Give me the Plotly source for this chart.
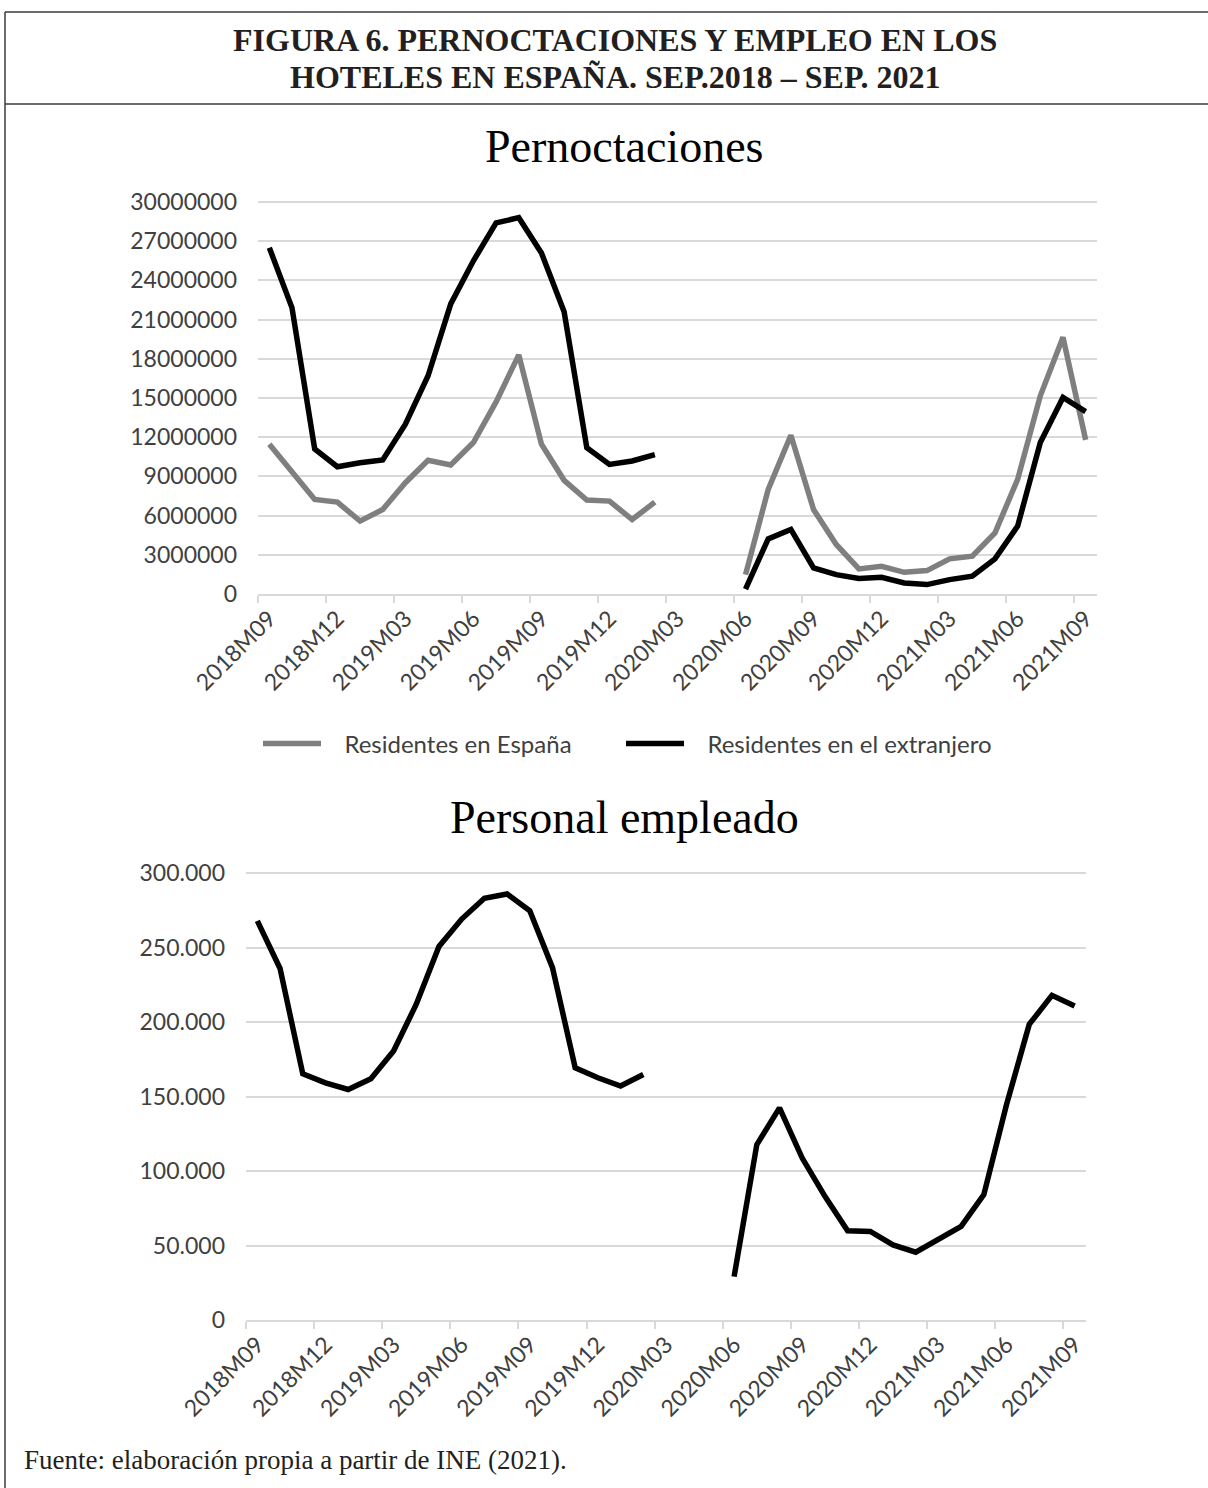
import plotly.graph_objects as go

W, H = 1208, 1488

# Monthly categories, Sep 2018 - Sep 2021
meses = [
    "2018M09", "2018M10", "2018M11", "2018M12",
    "2019M01", "2019M02", "2019M03", "2019M04", "2019M05", "2019M06",
    "2019M07", "2019M08", "2019M09", "2019M10", "2019M11", "2019M12",
    "2020M01", "2020M02", "2020M03", "2020M04", "2020M05", "2020M06",
    "2020M07", "2020M08", "2020M09", "2020M10", "2020M11", "2020M12",
    "2021M01", "2021M02", "2021M03", "2021M04", "2021M05", "2021M06",
    "2021M07", "2021M08", "2021M09",
]

# Overnight stays (hotel closures leave Mar-May 2020 empty)
residentes_espana = [
    11460000, 9280000, 7240000, 7030000, 5580000, 6470000, 8520000, 10230000,
    9870000, 11590000, 14700000, 18300000, 11460000, 8700000, 7190000, 7110000,
    5700000, 7030000, None, None, None, 1480000, 8000000, 12150000, 6470000,
    3790000, 1920000, 2120000, 1660000, 1790000, 2690000, 2890000, 4680000,
    8770000, 15170000, 19640000, 11790000,
]
residentes_extranjero = [
    26500000, 21900000, 11100000, 9740000, 10050000, 10260000, 13000000,
    16700000, 22200000, 25500000, 28400000, 28800000, 26100000, 21600000,
    11200000, 9920000, 10180000, 10670000, None, None, None, 380000, 4220000,
    4940000, 2000000, 1480000, 1180000, 1280000, 840000, 720000, 1100000,
    1360000, 2690000, 5190000, 11590000, 15040000, 13960000,
]

# Hotel staff
personal_empleado = [
    267900, 235900, 165200, 159200, 154700, 161900, 180500, 211900, 250700,
    269100, 283000, 285900, 274700, 236500, 169300, 162600, 157000, 164800,
    None, None, None, 29100, 117700, 142400, 108700, 83000, 59900, 59400,
    50400, 45500, 54300, 62800, 84100, 144600, 198400, 217900, 210800,
]

ticks_pernoct = [0, 3000000, 6000000, 9000000, 12000000, 15000000, 18000000,
                 21000000, 24000000, 27000000, 30000000]
labels_pernoct = [str(v) for v in ticks_pernoct]
ticks_empleo = [0, 50000, 100000, 150000, 200000, 250000, 300000]
labels_empleo = ["0", "50.000", "100.000", "150.000", "200.000", "250.000", "300.000"]

GRAY = "#7f7f7f"
GRID = "#d9d9d9"
TXT = "#404040"
LW = 5.5


def px(x):
    return x / W


def py(y):
    return 1 - y / H


fig = go.Figure()
fig.add_trace(go.Scatter(x=meses, y=residentes_espana, mode="lines",
                         name="&nbsp;&nbsp;&nbsp;Residentes en España",
                         line=dict(color=GRAY, width=LW),
                         xaxis="x", yaxis="y", legend="legend"))
fig.add_trace(go.Scatter(x=meses, y=residentes_extranjero, mode="lines",
                         name="&nbsp;&nbsp;&nbsp;Residentes en el extranjero",
                         line=dict(color="black", width=LW),
                         xaxis="x", yaxis="y", legend="legend2"))
fig.add_trace(go.Scatter(x=meses, y=personal_empleado, mode="lines",
                         name="Personal empleado", showlegend=False,
                         line=dict(color="black", width=LW),
                         xaxis="x2", yaxis="y2"))

tick_font = dict(family="Lato", size=23, color=TXT)

xaxis_common = dict(
    type="category", categoryorder="array", categoryarray=meses,
    range=[-0.5, len(meses) - 0.5],
    tickmode="linear", tick0=0, dtick=3, tickson="boundaries",
    ticks="outside", ticklen=7, tickwidth=2, tickcolor=GRID,
    showline=True, linecolor=GRID, linewidth=2,
    showgrid=False, zeroline=False, tickangle=-45,
    tickfont=tick_font, fixedrange=True, automargin=False,
)
yaxis_common = dict(
    showgrid=True, gridcolor=GRID, gridwidth=2, zeroline=False,
    showline=False, ticks="", tickfont=tick_font, ticklabelstandoff=20,
    fixedrange=True, automargin=False,
)

legend_common = dict(
    orientation="h", xanchor="left", yanchor="middle",
    font=dict(family="Lato", size=24, color=TXT),
    itemwidth=58, bgcolor="rgba(0,0,0,0)",
)

# small headroom so the top gridline is drawn inside the plot area
top_pad = 1.5

fig.update_layout(
    width=W, height=H,
    margin=dict(l=0, r=0, t=0, b=0, autoexpand=False),
    paper_bgcolor="white", plot_bgcolor="white",
    xaxis=dict(xaxis_common, domain=[px(258), px(1097)], anchor="y"),
    yaxis=dict(yaxis_common, domain=[py(594), py(202 - top_pad)], anchor="x",
               range=[0, 30000000 * (1 + top_pad / 392)], tickmode="array",
               tickvals=ticks_pernoct, ticktext=labels_pernoct),
    xaxis2=dict(xaxis_common, domain=[px(246), px(1086)], anchor="y2"),
    yaxis2=dict(yaxis_common, domain=[py(1320), py(873 - top_pad)], anchor="x2",
                range=[0, 300000 * (1 + top_pad / 447)], tickmode="array",
                tickvals=ticks_empleo, ticktext=labels_empleo),
    showlegend=True,
    legend=dict(legend_common, x=px(258), y=py(744)),
    legend2=dict(legend_common, x=px(621), y=py(744)),
)

serif = "Liberation Serif"
head_font = dict(family=serif, size=32, color="#231f20")
fig.add_annotation(text="<b>FIGURA 6. PERNOCTACIONES Y EMPLEO EN LOS</b>",
                   x=px(615), y=py(40), xref="paper", yref="paper",
                   showarrow=False, xanchor="center", yanchor="middle",
                   font=head_font)
fig.add_annotation(text="<b>HOTELES EN ESPAÑA. SEP.2018 – SEP. 2021</b>",
                   x=px(615), y=py(77), xref="paper", yref="paper",
                   showarrow=False, xanchor="center", yanchor="middle",
                   font=head_font)
fig.add_annotation(text="Pernoctaciones", x=px(624), y=py(146),
                   xref="paper", yref="paper", showarrow=False,
                   xanchor="center", yanchor="middle",
                   font=dict(family=serif, size=46, color="black"))
fig.add_annotation(text="Personal empleado", x=px(624), y=py(818),
                   xref="paper", yref="paper", showarrow=False,
                   xanchor="center", yanchor="middle",
                   font=dict(family=serif, size=46, color="black"))
fig.add_annotation(text="Fuente: elaboración propia a partir de INE (2021).",
                   x=px(22), y=py(1460), xref="paper", yref="paper",
                   showarrow=False, xanchor="left", yanchor="middle",
                   font=dict(family=serif, size=27, color="#231f20"))

# Frame of the figure box
frame = dict(type="line", xref="paper", yref="paper",
             line=dict(color="#3a3a3a", width=1.5))
fig.add_shape(frame, x0=px(5), x1=1, y0=py(12), y1=py(12))
fig.add_shape(frame, x0=px(5), x1=1, y0=py(104), y1=py(104))
fig.add_shape(frame, x0=px(5), x1=px(5), y0=py(12), y1=0)

fig.write_html("out.html")
